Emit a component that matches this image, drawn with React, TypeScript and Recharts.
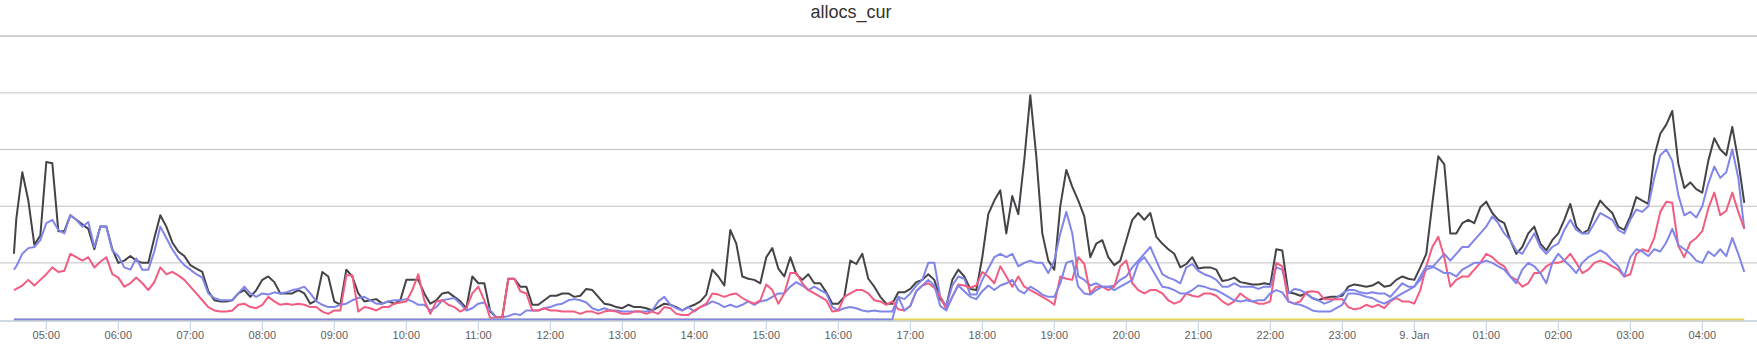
import React from 'react';
import { LineChart, Line, XAxis, YAxis, CartesianGrid } from 'recharts';

const W = 1757;
const H = 356;

// x positions: minutes since 00:00 of the first day (04:33 start, then every 5 minutes up to 04:35 next day)
const times: number[] = [273, ...Array.from({ length: 289 }, (_, i) => 275 + 5 * i)];

const tickMinutes = [300, 360, 420, 480, 540, 600, 660, 720, 780, 840, 900, 960, 1020, 1080, 1140, 1200, 1260, 1320, 1380, 1440, 1500, 1560, 1620, 1680];
const tickLabels = ['05:00', '06:00', '07:00', '08:00', '09:00', '10:00', '11:00', '12:00', '13:00', '14:00', '15:00', '16:00', '17:00', '18:00', '19:00', '20:00', '21:00', '22:00', '23:00', '9. Jan', '01:00', '02:00', '03:00', '04:00'];
const yTicks = [50, 100, 150, 200, 250];

const blackByHour = [
  [58, 89, 130, 105, 66, 74],
  [139, 138, 78, 78, 92, 88, 84, 80, 62, 82, 82, 62],
  [50, 52, 56, 52, 50, 50, 72, 92, 82, 68, 60, 56],
  [48, 45, 42, 25, 17, 16, 16, 17, 23, 26, 20, 26],
  [35, 38, 33, 23, 23, 23, 26, 23, 14, 17, 42, 38],
  [16, 13, 44, 38, 23, 16, 17, 18, 14, 16, 14, 17],
  [35, 35, 35, 23, 14, 17, 23, 24, 20, 16, 10, 38],
  [32, 32, 7, 2, 2, 36, 36, 29, 29, 13, 13, 17],
  [21, 21, 23, 23, 20, 21, 27, 26, 20, 14, 13, 11],
  [10, 13, 11, 11, 10, 8, 11, 14, 13, 11, 8, 11],
  [13, 16, 22, 44, 38, 30, 79, 67, 38, 36, 35, 32],
  [55, 63, 45, 38, 55, 40, 35, 40, 32, 32, 24, 14],
  [14, 20, 52, 49, 58, 36, 29, 20, 14, 14, 24, 24],
  [27, 33, 35, 40, 35, 18, 12, 35, 44, 38, 27, 26],
  [55, 93, 105, 114, 76, 109, 93, 141, 198, 144, 76, 52],
  [44, 100, 132, 117, 105, 91, 55, 67, 70, 55, 48, 52],
  [70, 88, 94, 88, 94, 73, 67, 62, 58, 46, 49, 55],
  [45, 46, 46, 44, 34, 35, 37, 33, 32, 31, 31, 32],
  [31, 62, 61, 24, 23, 21, 23, 19, 17, 19, 20, 20],
  [21, 29, 31, 30, 29, 30, 33, 29, 30, 35, 38, 36],
  [35, 46, 58, 102, 144, 137, 76, 76, 85, 88, 85, 99],
  [104, 94, 88, 85, 70, 58, 64, 76, 82, 67, 61, 70],
  [76, 88, 102, 82, 76, 79, 94, 105, 99, 94, 82, 79],
  [91, 108, 105, 102, 144, 164, 172, 184, 138, 116, 121, 115],
  [112, 140, 160, 150, 145, 170, 140, 103],
];

const blueAByHour = [
  [44, 47, 58, 63, 64, 70],
  [85, 88, 79, 76, 92, 88, 82, 86, 64, 82, 82, 61],
  [56, 46, 44, 54, 44, 44, 60, 82, 72, 62, 54, 48],
  [44, 40, 37, 23, 19, 17, 17, 17, 23, 29, 23, 20],
  [23, 22, 24, 23, 24, 26, 27, 29, 23, 16, 13, 11],
  [11, 13, 14, 17, 19, 20, 17, 14, 14, 16, 17, 17],
  [18, 16, 13, 13, 8, 11, 17, 18, 19, 14, 8, 10],
  [14, 15, 8, 2, 2, 3, 5, 4, 8, 8, 8, 10],
  [11, 13, 14, 17, 18, 17, 15, 10, 8, 10, 8, 8],
  [7, 7, 7, 7, 7, 8, 16, 20, 13, 10, 8, 11],
  [7, 11, 13, 16, 14, 11, 13, 11, 13, 16, 13, 16],
  [17, 20, 23, 23, 29, 33, 30, 26, 29, 26, 23, 11],
  [8, 10, 11, 10, 8, 7, 8, 7, 7, 7, 20, 18],
  [23, 30, 35, 50, 50, 20, 12, 30, 38, 36, 22, 22],
  [35, 45, 55, 58, 55, 58, 47, 50, 52, 50, 50, 41],
  [52, 76, 95, 76, 38, 35, 30, 32, 29, 29, 30, 35],
  [38, 46, 52, 58, 64, 52, 40, 37, 35, 32, 46, 49],
  [43, 40, 38, 35, 29, 29, 32, 29, 29, 29, 27, 29],
  [29, 46, 44, 23, 27, 26, 23, 19, 17, 14, 16, 19],
  [23, 26, 26, 24, 23, 24, 23, 23, 20, 26, 32, 29],
  [29, 35, 44, 46, 52, 58, 52, 58, 64, 64, 70, 76],
  [82, 91, 85, 76, 70, 61, 58, 67, 76, 64, 58, 64],
  [67, 79, 88, 79, 76, 76, 85, 94, 91, 88, 79, 76],
  [88, 97, 95, 100, 125, 145, 150, 140, 110, 92, 95, 90],
  [100, 120, 135, 125, 130, 150, 125, 80],
];

const redByHour = [
  [26, 27, 30, 35, 30, 35],
  [40, 46, 42, 43, 58, 55, 52, 55, 46, 51, 55, 40],
  [37, 29, 32, 37, 32, 26, 33, 46, 40, 42, 39, 35],
  [29, 23, 17, 11, 8, 7, 7, 8, 13, 14, 11, 10],
  [13, 20, 16, 13, 14, 13, 14, 13, 11, 11, 7, 5],
  [8, 8, 39, 39, 7, 11, 10, 8, 11, 11, 14, 15],
  [16, 26, 40, 17, 5, 16, 17, 13, 11, 7, 10, 23],
  [29, 17, 1, 2, 2, 36, 36, 25, 23, 8, 8, 10],
  [8, 8, 7, 7, 7, 5, 7, 7, 5, 7, 8, 7],
  [5, 5, 7, 7, 5, 7, 5, 11, 10, 5, 4, 4],
  [8, 11, 14, 23, 22, 20, 22, 23, 19, 16, 14, 17],
  [31, 26, 14, 23, 41, 41, 32, 26, 23, 20, 17, 7],
  [8, 20, 23, 26, 26, 23, 17, 16, 13, 16, 9, 8],
  [12, 25, 30, 32, 28, 20, 9, 20, 31, 30, 28, 30],
  [42, 38, 32, 47, 38, 29, 38, 29, 26, 23, 20, 17],
  [13, 38, 36, 35, 55, 49, 23, 29, 29, 26, 29, 47],
  [52, 32, 26, 23, 26, 26, 23, 17, 14, 16, 23, 21],
  [20, 23, 23, 21, 16, 13, 16, 23, 19, 16, 14, 14],
  [16, 50, 47, 16, 14, 16, 24, 25, 24, 18, 18, 18],
  [18, 11, 9, 10, 13, 11, 13, 10, 16, 19, 16, 16],
  [14, 26, 47, 64, 73, 55, 29, 35, 38, 38, 44, 50],
  [58, 55, 50, 47, 38, 35, 29, 32, 41, 41, 47, 50],
  [50, 52, 58, 50, 41, 44, 50, 52, 50, 47, 44, 38],
  [40, 58, 62, 60, 72, 95, 104, 103, 65, 55, 68, 72],
  [78, 98, 112, 92, 96, 112, 95, 80],
];

const blueBByHour = [
  [0, 0, 0, 0, 0, 0],
  [0, 0, 0, 0, 0, 0, 0, 0, 0, 0, 0, 0],
  [0, 0, 0, 0, 0, 0, 0, 0, 0, 0, 0, 0],
  [0, 0, 0, 0, 0, 0, 0, 0, 0, 0, 0, 0],
  [0, 0, 0, 0, 0, 0, 0, 0, 0, 0, 0, 0],
  [0, 0, 0, 0, 0, 0, 0, 0, 0, 0, 0, 0],
  [0, 0, 0, 0, 0, 0, 0, 0, 0, 0, 0, 0],
  [0, 0, 0, 0, 0, 0, 0, 0, 0, 0, 0, 0],
  [0, 0, 0, 0, 0, 0, 0, 0, 0, 0, 0, 0],
  [0, 0, 0, 0, 0, 0, 0, 0, 0, 0, 0, 0],
  [0, 0, 0, 0, 0, 0, 0, 0, 0, 0, 0, 0],
  [0, 0, 0, 0, 0, 0, 0, 0, 0, 0, 0, 0],
  [0, 0, 0, 0, 0, 0, 0, 0, 0, 0, 20, 8],
  [12, 25, 30, 35, 30, 12, 8, 20, 30, 25, 20, 18],
  [25, 30, 26, 30, 32, 35, 26, 23, 29, 26, 22, 20],
  [20, 32, 50, 52, 29, 23, 22, 26, 29, 29, 26, 29],
  [32, 35, 50, 55, 47, 38, 29, 28, 26, 23, 23, 26],
  [30, 29, 27, 26, 23, 20, 17, 16, 17, 16, 17, 17],
  [23, 26, 24, 16, 14, 13, 11, 8, 7, 7, 7, 10],
  [13, 23, 23, 22, 20, 19, 16, 14, 17, 20, 23, 26],
  [29, 38, 47, 47, 44, 41, 41, 38, 44, 47, 50, 50],
  [52, 50, 47, 44, 38, 32, 44, 50, 47, 41, 32, 50],
  [58, 52, 47, 41, 50, 55, 58, 61, 58, 52, 47, 38],
  [55, 62, 60, 56, 62, 60, 68, 80, 66, 62, 58, 52],
  [50, 60, 56, 62, 56, 72, 58, 42],
];

const yellowTimes = [273, 1715];
const yellowValues = [0, 0];

const black = blackByHour.flat();
const blueA = blueAByHour.flat();
const red = redByHour.flat();
const blueB = blueBByHour.flat();

const rows = times.map((t, i) => ({ t, black: black[i], blueA: blueA[i], red: red[i], blueB: blueB[i] }));
const yellowData = yellowTimes.map((t, i) => ({ t, yellow: yellowValues[i] }));

const fmt = (v: number) => {
  const i = tickMinutes.indexOf(v);
  return i >= 0 ? tickLabels[i] : '';
};

const FONT = '"Liberation Sans", Arial, Helvetica, sans-serif';

export default function App() {
  return (
    <div style={{ position: 'absolute', left: 0, top: 0, width: W, height: H, background: '#ffffff' }}>
      <LineChart width={W} height={H} data={rows} margin={{ top: 36, right: 0, bottom: 0, left: 0 }}>
        <CartesianGrid vertical={false} horizontal stroke="#C0C0C0" strokeWidth={1} />
        <YAxis hide width={0} type="number" domain={[-1.3, 250.2]} ticks={yTicks} allowDataOverflow />
        <XAxis
          dataKey="t"
          type="number"
          domain={[261.4, 1725.6]}
          allowDataOverflow
          ticks={tickMinutes}
          interval={0}
          tickFormatter={fmt}
          height={35}
          axisLine={{ stroke: '#C0D0E0', strokeWidth: 1 }}
          tickLine={{ stroke: '#C0D0E0', strokeWidth: 1 }}
          tickSize={10}
          tickMargin={0}
          tick={{ fill: '#606060', fontSize: 11, fontFamily: FONT }}
        />
        <Line type="linear" dataKey="black" stroke="#434348" strokeWidth={2} dot={false} activeDot={false} isAnimationActive={false} strokeLinejoin="round" />
        <Line type="linear" dataKey="blueA" stroke="#8085e9" strokeWidth={2} dot={false} activeDot={false} isAnimationActive={false} strokeLinejoin="round" />
        <Line type="linear" dataKey="red" stroke="#f15c80" strokeWidth={2} dot={false} activeDot={false} isAnimationActive={false} strokeLinejoin="round" />
        <Line type="linear" data={yellowData} dataKey="yellow" stroke="#e4d354" strokeWidth={2} dot={false} activeDot={false} isAnimationActive={false} />
        <Line type="linear" dataKey="blueB" stroke="#8085e9" strokeWidth={2} dot={false} activeDot={false} isAnimationActive={false} strokeLinejoin="round" />
      </LineChart>
      <svg style={{ position: 'absolute', left: 0, top: 0 }} width={W} height={30}>
        <text x={851} y={17.5} textAnchor="middle" fontFamily={FONT} fontSize={18} fill="#333333">allocs_cur</text>
      </svg>
    </div>
  );
}
